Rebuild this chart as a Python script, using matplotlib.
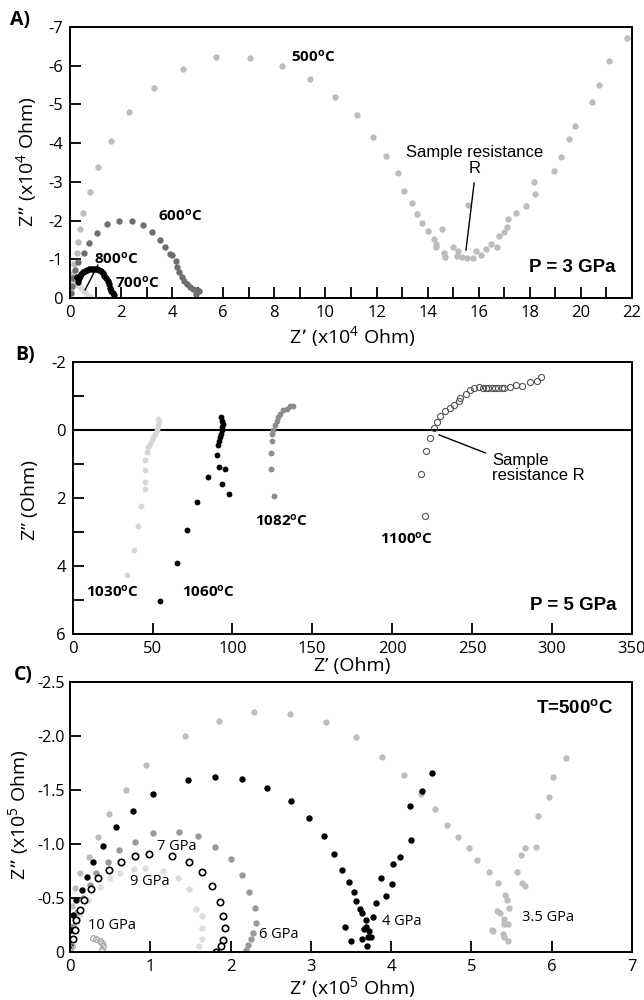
import matplotlib
matplotlib.use("Agg")
import matplotlib.pyplot as plt
from matplotlib.ticker import MultipleLocator

plt.rcParams['font.family'] = ['Open Sans', 'DejaVu Sans']
plt.rcParams['mathtext.default'] = 'regular'
plt.rcParams['axes.unicode_minus'] = False

# ---------------- panel A : P = 3 GPa (x10^4 Ohm) ----------------
a500_x = [0.0, 0.03, 0.08, 0.16, 0.27, 0.31, 0.39, 0.51, 0.78, 1.10, 1.60, 2.31, 3.29, 4.42, 5.71,
          7.05, 8.30, 9.39, 10.37, 11.23, 11.86, 12.37, 12.84, 13.07, 13.39, 13.58, 13.78, 14.01,
          14.25, 14.32, 14.32, 14.64, 14.68, 14.56, 14.99, 15.15, 15.19, 15.34, 15.54, 15.77,
          15.58, 15.89, 16.09, 16.28, 16.48, 16.71, 16.79, 16.99, 17.10, 17.14, 17.46, 17.85,
          18.20, 18.16, 18.94, 19.22, 19.53, 19.77, 20.43, 20.70, 21.10, 21.80]
a500_y = [-0.15, -0.38, -0.62, -0.88, -1.16, -1.45, -1.78, -2.20, -2.74, -3.39, -4.06, -4.81, -5.43,
          -5.92, -6.23, -6.20, -5.99, -5.66, -5.19, -4.73, -4.16, -3.67, -3.23, -2.76, -2.45,
          -2.17, -1.94, -1.73, -1.52, -1.40, -1.32, -1.16, -1.06, -1.78, -1.32, -1.09, -1.21,
          -1.06, -1.03, -1.03, -2.40, -1.21, -1.11, -1.27, -1.40, -1.32, -1.60, -1.71, -1.83,
          -2.04, -2.20, -2.38, -2.69, -3.00, -3.28, -3.64, -4.11, -4.44, -5.06, -5.50, -6.12, -6.72]

a600_x = [0.02, 0.06, 0.12, 0.20, 0.32, 0.55, 0.74, 1.06, 1.45, 1.92, 2.43, 2.86, 3.21, 3.52, 3.72,
          3.91, 3.99, 4.15, 4.19, 4.27, 4.38, 4.46, 4.58, 4.70, 4.81, 4.97, 5.05, 4.93]
a600_y = [-0.12, -0.32, -0.52, -0.72, -0.92, -1.16, -1.42, -1.68, -1.92, -2.00, -2.00, -1.89,
          -1.71, -1.50, -1.32, -1.13, -1.10, -0.95, -0.79, -0.68, -0.55, -0.45, -0.37, -0.29,
          -0.24, -0.21, -0.18, -0.10]

a700_x = [0.26, 0.30, 0.34, 0.38, 0.44, 0.50, 0.57, 0.65, 0.73, 0.82, 0.90, 0.98, 1.06, 1.14,
          1.22, 1.29, 1.35, 1.41, 1.47, 1.52, 1.57, 1.62, 1.67, 1.72]
a700_y = [-0.55, -0.42, -0.52, -0.58, -0.62, -0.66, -0.69, -0.72, -0.74, -0.75, -0.75, -0.75,
          -0.74, -0.72, -0.69, -0.64, -0.58, -0.51, -0.43, -0.35, -0.27, -0.19, -0.12, -0.07]

a800_x = [0.02, 0.06, 0.12, 0.20, 0.30, 0.42, 0.55, 0.68, 0.80]
a800_y = [-0.12, -0.25, -0.33, -0.36, -0.33, -0.26, -0.17, -0.09, -0.03]

# ---------------- panel B : P = 5 GPa (Ohm) ----------------
b1030_x = [53.6, 54.2, 53.6, 52.6, 51.5, 50.4, 49.4, 48.4, 47.3, 46.3, 45.2, 45.2, 45.2, 45.2,
           42.7, 41.1, 38.2, 34.0]
b1030_y = [-0.32, -0.23, -0.13, 0.02, 0.12, 0.21, 0.31, 0.41, 0.51, 0.66, 0.90, 1.18, 1.54, 1.74,
           2.24, 2.83, 3.52, 4.26]

b1060_x = [92.8, 93.2, 93.9, 93.4, 93.2, 92.8, 92.2, 91.6, 90.9, 90.3, 91.6, 95.3, 84.7, 93.2,
           98.0, 77.6, 71.7, 65.1, 54.4]
b1060_y = [-0.37, -0.27, -0.18, -0.08, 0.02, 0.12, 0.21, 0.33, 0.46, 0.73, 1.09, 1.16, 1.40, 1.60,
           1.89, 2.13, 2.93, 3.90, 5.03]

b1082_x = [138.0, 136.0, 133.9, 131.8, 129.7, 128.7, 127.7, 126.6, 125.5, 124.7, 124.5, 123.9,
           124.1, 126.2]
b1082_y = [-0.71, -0.69, -0.62, -0.57, -0.47, -0.37, -0.27, -0.15, 0.02, 0.12, 0.34, 0.67, 1.16,
           1.95]

b1100_x = [220.5, 218.0, 221.3, 223.8, 226.1, 227.8, 229.8, 233.0, 236.1, 238.6, 241.6, 242.8,
           246.1, 248.6, 251.3, 254.3, 256.9, 258.6, 260.3, 262.4, 264.5, 266.6, 268.6, 270.1,
           273.6, 277.8, 281.4, 286.6, 290.7, 293.1]
b1100_y = [2.52, 1.30, 0.62, 0.23, -0.05, -0.24, -0.40, -0.55, -0.65, -0.74, -0.84, -0.93, -1.06,
           -1.16, -1.23, -1.26, -1.24, -1.24, -1.24, -1.24, -1.24, -1.24, -1.24, -1.24, -1.26,
           -1.33, -1.30, -1.40, -1.42, -1.55]

# ---------------- panel C : T = 500 C (x10^5 Ohm) ----------------
c35_x = [0.0, 0.02, 0.06, 0.12, 0.24, 0.35, 0.49, 0.70, 0.95, 1.43, 1.86, 2.29, 2.74, 3.19, 3.56,
         3.89, 4.16, 4.37, 4.54, 4.70, 4.83, 4.97, 5.07, 5.22, 5.33, 5.42, 5.44, 5.47, 5.32, 5.35,
         5.40, 5.45, 5.40, 5.26, 5.27, 5.39, 5.40, 5.45, 5.57, 5.63, 5.67, 5.62, 5.67, 5.81, 5.83,
         5.96, 6.01, 6.18]
c35_y = [-0.05, -0.42, -0.59, -0.73, -0.88, -1.06, -1.28, -1.50, -1.73, -2.00, -2.14, -2.22, -2.21,
         -2.13, -1.99, -1.81, -1.64, -1.46, -1.32, -1.18, -1.06, -0.96, -0.85, -0.74, -0.64, -0.53,
         -0.48, -0.41, -0.38, -0.36, -0.30, -0.26, -0.26, -0.20, -0.19, -0.16, -0.14, -0.10, -0.74,
         -0.64, -0.61, -0.90, -0.96, -0.97, -1.26, -1.44, -1.62, -1.80]

c4_x = [0.0, 0.01, 0.04, 0.08, 0.15, 0.21, 0.29, 0.41, 0.57, 0.78, 1.03, 1.47, 1.80, 2.14, 2.45,
        2.75, 2.98, 3.16, 3.29, 3.39, 3.47, 3.54, 3.56, 3.61, 3.64, 3.43, 3.50, 3.69, 3.69, 3.73,
        3.66, 3.71, 3.75, 3.64, 3.70, 3.77, 3.81, 3.87, 3.93, 4.01, 4.02, 4.11, 4.25, 4.24, 4.39,
        4.51]
c4_y = [-0.06, -0.20, -0.34, -0.48, -0.57, -0.69, -0.83, -0.98, -1.16, -1.31, -1.46, -1.59, -1.62,
        -1.60, -1.52, -1.40, -1.24, -1.07, -0.91, -0.76, -0.65, -0.55, -0.47, -0.40, -0.36, -0.23,
        -0.10, -0.29, -0.23, -0.19, -0.21, -0.14, -0.14, -0.12, -0.05, -0.32, -0.45, -0.68, -0.52,
        -0.63, -0.81, -0.88, -1.04, -1.35, -1.49, -1.66]

c6_x = [0.01, 0.04, 0.09, 0.16, 0.25, 0.33, 0.47, 0.61, 0.81, 1.03, 1.36, 1.59, 1.81, 2.00, 2.14,
        2.23, 2.30, 2.32, 2.28, 2.25, 2.22, 2.19]
c6_y = [-0.11, -0.24, -0.37, -0.50, -0.62, -0.73, -0.83, -0.94, -1.02, -1.10, -1.11, -1.07, -0.97,
        -0.86, -0.71, -0.55, -0.41, -0.27, -0.17, -0.12, -0.06, -0.02]

c7_x = [0.04, 0.06, 0.08, 0.12, 0.17, 0.26, 0.35, 0.49, 0.64, 0.81, 0.99, 1.27, 1.48, 1.64, 1.77,
        1.87, 1.90, 1.93, 1.91, 1.88, 1.82]
c7_y = [-0.12, -0.20, -0.29, -0.39, -0.48, -0.58, -0.68, -0.76, -0.83, -0.89, -0.91, -0.89, -0.83,
        -0.74, -0.61, -0.46, -0.33, -0.22, -0.11, -0.05, 0.0]

c9_x = [0.01, 0.05, 0.12, 0.22, 0.37, 0.50, 0.62, 0.80, 0.94, 1.16, 1.34, 1.48, 1.57, 1.64, 1.65,
        1.64, 1.61]
c9_y = [-0.08, -0.20, -0.34, -0.48, -0.60, -0.68, -0.73, -0.77, -0.78, -0.75, -0.68, -0.58, -0.40,
        -0.33, -0.22, -0.12, -0.05]

c10_x = [0.0, 0.02, 0.29, 0.33, 0.37, 0.40, 0.41, 0.40]
c10_y = [-0.03, -0.05, -0.13, -0.12, -0.10, -0.08, -0.05, -0.02]

fig = plt.figure(figsize=(6.44, 10), dpi=100)


def style(ax):
    for s in ax.spines.values():
        s.set_linewidth(1.4)
    ax.tick_params(which='both', direction='in', length=8, width=1.3, labelsize=12, pad=5)


def labels(ax, xl, yl, xc, ytop, xright, yc):
    # axis titles placed by pixel position of the reference
    ax.set_xlabel(xl, fontsize=14)
    ax.set_ylabel(yl, fontsize=14)
    ax.xaxis.set_label_coords(xc / 644, 1 - ytop / 1000, transform=fig.transFigure)
    ax.yaxis.set_label_coords(xright / 644, 1 - yc / 1000, transform=fig.transFigure)


# ---------- A ----------
ax = fig.add_axes([0.1087, 0.702, 0.8727, 0.271])
ax.plot(a500_x, a500_y, 'o', ms=4.6, color='#bcbcbc', mec='none')
ax.plot(a800_x, a800_y, 'o', ms=4.6, color='#dadada', mec='none')
ax.plot(a600_x, a600_y, 'o', ms=4.6, color='#6e6e6e', mec='none')
ax.plot(a700_x, a700_y, 'o', ms=4.6, color='black', mec='none')
ax.set_xlim(0, 22)
ax.set_ylim(0, -7)
ax.xaxis.set_major_locator(MultipleLocator(2))
ax.xaxis.set_minor_locator(MultipleLocator(1))
ax.yaxis.set_major_locator(MultipleLocator(1))
style(ax)
labels(ax, 'Z\u2019 (x10$^{4}$ Ohm)', 'Z\u201d (x10$^{4}$ Ohm)', 352, 324, 39, 162)
bold = dict(fontsize=11, fontweight='bold', va='center', ha='left')
ax.text(8.67, -6.23, '500$^{o}$C', **bold)
ax.text(3.44, -2.12, '600$^{o}$C', **bold)
ax.text(0.94, -1.03, '800$^{o}$C', **bold)
ax.text(1.76, -0.39, '700$^{o}$C', **bold)
ax.plot([1.09, 0.59], [-0.85, -0.21], color='black', lw=1)
ax.text(15.82, -3.55, 'Sample resistance\nR', ha='center', va='center', fontsize=12,
        family='Liberation Sans', linespacing=1.05)
ax.plot([15.82, 15.5], [-2.97, -1.24], color='black', lw=1)
ax.text(21.37, -0.8, 'P = 3 GPa', ha='right', va='center', fontsize=13.5, fontweight='bold',
        family='Liberation Sans')

# ---------- B ----------
ax = fig.add_axes([0.1129, 0.366, 0.868, 0.2723])
ax.axhline(0, color='black', lw=1.5)
ax.plot(b1030_x, b1030_y, 'o', ms=4.2, color='#d6d6d6', mec='none')
ax.plot(b1060_x, b1060_y, 'o', ms=4.2, color='black', mec='none')
ax.plot(b1082_x, b1082_y, 'o', ms=4.2, color='#8c8c8c', mec='none')
ax.plot(b1100_x, b1100_y, 'o', ms=4.4, mfc='none', mec='#555555', mew=0.8)
ax.set_xlim(0, 350)
ax.set_ylim(6, -2)
ax.xaxis.set_major_locator(MultipleLocator(50))
ax.yaxis.set_major_locator(MultipleLocator(2))
ax.yaxis.set_minor_locator(MultipleLocator(1))
style(ax)
labels(ax, 'Z\u2019 (Ohm)', 'Z\u201d (Ohm)', 352, 657, 39, 500)
ax.text(8.3, 4.76, '1030$^{o}$C', **bold)
ax.text(68.5, 4.76, '1060$^{o}$C', **bold)
ax.text(114.1, 2.68, '1082$^{o}$C', **bold)
ax.text(192.3, 3.2, '1100$^{o}$C', **bold)
ax.text(262.4, 1.12, 'Sample\nresistance R', ha='left', va='center', fontsize=12,
        family='Liberation Sans', linespacing=1.05)
ax.plot([229.4, 258.4], [0.15, 0.68], color='black', lw=1)
ax.text(340.6, 5.15, 'P = 5 GPa', ha='right', va='center', fontsize=13.5, fontweight='bold',
        family='Liberation Sans')

# ---------- C ----------
ax = fig.add_axes([0.1087, 0.0483, 0.8727, 0.2694])
ax.plot(c35_x, c35_y, 'o', ms=4.6, color='#bdbdbd', mec='none')
ax.plot(c9_x, c9_y, 'o', ms=4.6, color='#dedede', mec='none')
ax.plot(c6_x, c6_y, 'o', ms=4.6, color='#999999', mec='none')
ax.plot(c4_x, c4_y, 'o', ms=4.6, color='black', mec='none')
ax.plot(c7_x, c7_y, 'o', ms=4.6, mfc='white', mec='black', mew=1.2)
ax.plot(c10_x, c10_y, 'o', ms=4.0, mfc='none', mec='#aaaaaa', mew=1.0)
ax.set_xlim(0, 7)
ax.set_ylim(0, -2.5)
ax.xaxis.set_major_locator(MultipleLocator(1))
ax.set_yticks([-2.5, -2.0, -1.5, -1.0, -0.5, 0])
ax.set_yticklabels(['-2.5', '-2.0', '-1.5', '-1.0', '-0.5', '0'])
style(ax)
ax.tick_params(axis='y', labelsize=11.5, pad=4)
labels(ax, 'Z\u2019 (x10$^{5}$ Ohm)', 'Z\u201d (x10$^{5}$ Ohm)', 352, 975, 31, 815)
reg = dict(fontsize=10.5, va='center', ha='left')
ax.text(1.085, -0.98, '7 GPa', **reg)
ax.text(0.75, -0.65, '9 GPa', **reg)
ax.text(0.22, -0.24, '10 GPa', **reg)
ax.text(2.36, -0.16, '6 GPa', **reg)
ax.text(3.88, -0.28, '4 GPa', **reg)
ax.text(5.63, -0.32, '3.5 GPa', **reg)
ax.text(6.77, -2.26, 'T=500$^{o}$C', ha='right', va='center', fontsize=13.5, fontweight='bold',
        family='Liberation Sans')

fig.text(10 / 644, 1 - 20 / 1000, 'A)', fontsize=14, fontweight='bold', va='center')
fig.text(15 / 644, 1 - 355 / 1000, 'B)', fontsize=14, fontweight='bold', va='center')
fig.text(14 / 644, 1 - 675 / 1000, 'C)', fontsize=14, fontweight='bold', va='center')

fig.savefig('out.png', dpi=100)
